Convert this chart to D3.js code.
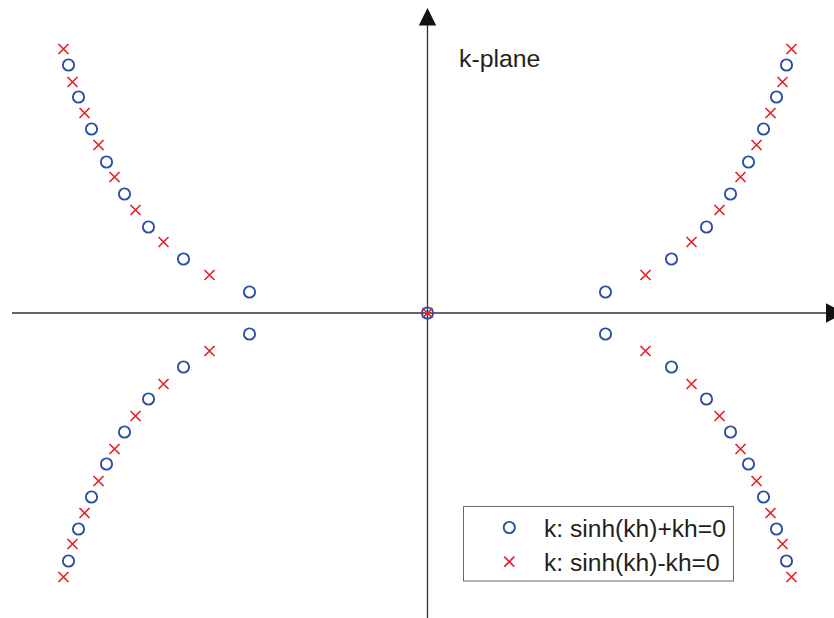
<!DOCTYPE html>
<html>
<head>
<meta charset="utf-8">
<script src="https://cdn.jsdelivr.net/npm/d3@7"></script>
<style>
  html, body { margin: 0; padding: 0; background: #fff; }
  svg { display: block; }
  text { font-family: "Liberation Sans", Arial, Helvetica, sans-serif; fill: #231f20; }
</style>
</head>
<body>
<svg id="chart" width="834" height="618"></svg>
<script>
// Roots in the first quadrant (|Re| along the horizontal, |Im| along the vertical);
// the full set is mirrored into all four quadrants, plus the root at the origin.
const plusRe  = [1.78, 2.44, 2.79, 3.03, 3.21, 3.36, 3.49, 3.59];   // sinh(kh)+kh=0
const plusIm  = [0.21, 0.54, 0.86, 1.19, 1.51, 1.84, 2.16, 2.48];
const minusRe = [2.18, 2.64, 2.92, 3.13, 3.29, 3.43, 3.55, 3.64];   // sinh(kh)-kh=0
const minusIm = [0.38, 0.71, 1.03, 1.36, 1.68, 2.00, 2.31, 2.64];

const legendLabels = ["k: sinh(kh)+kh=0", "k: sinh(kh)-kh=0"];
const planeLabel = "k-plane";

const BLUE = "#2c4ea3";
const RED = "#e4232b";
const AXIS = "#333333";

const svg = d3.select("#chart");

const x = d3.scaleLinear().domain([-4.155, 4.065]).range([12, 834]);
const y = d3.scaleLinear().domain([-3.05, 3.13]).range([618, 0]);

function mirror(re, im) {
  const pts = [[0, 0]];
  re.forEach((r, i) => {
    const m = im[i];
    pts.push([r, m], [-r, m], [r, -m], [-r, -m]);
  });
  return pts;
}
const plusPts = mirror(plusRe, plusIm);
const minusPts = mirror(minusRe, minusIm);

// axes
const x0 = x(0), y0 = y(0);
const axes = svg.append("g");
axes.append("line")
  .attr("x1", x.range()[0]).attr("x2", 828)
  .attr("y1", y0).attr("y2", y0)
  .attr("stroke", AXIS).attr("stroke-width", 1.3);
axes.append("line")
  .attr("x1", x0).attr("x2", x0)
  .attr("y1", 618).attr("y2", 20)
  .attr("stroke", AXIS).attr("stroke-width", 1.3);
// arrow heads
axes.append("path")
  .attr("d", `M${x0},8 L${x0 + 8.7},25.5 L${x0 - 8.7},25.5 Z`)
  .attr("fill", "#111");
axes.append("path")
  .attr("d", `M826,${y0 - 9.8} L844,${y0} L826,${y0 + 9.8} Z`)
  .attr("fill", "#111");

// markers
const crossSize = 5;
function crossPath(cx, cy, s) {
  return `M${cx - s},${cy - s}L${cx + s},${cy + s}M${cx - s},${cy + s}L${cx + s},${cy - s}`;
}

svg.append("g").selectAll("circle")
  .data(plusPts).join("circle")
  .attr("cx", d => x(d[0])).attr("cy", d => y(d[1]))
  .attr("r", 5.6)
  .attr("fill", "none").attr("stroke", BLUE).attr("stroke-width", 1.9);

svg.append("g").selectAll("path")
  .data(minusPts).join("path")
  .attr("d", d => crossPath(x(d[0]), y(d[1]), crossSize))
  .attr("fill", "none").attr("stroke", RED).attr("stroke-width", 1.7);

// plane label
svg.append("text")
  .attr("x", 459).attr("y", 66.5)
  .attr("font-size", 24.8)
  .text(planeLabel);

// legend
const lg = svg.append("g");
lg.append("rect")
  .attr("x", 463.5).attr("y", 506.5)
  .attr("width", 270).attr("height", 74.5)
  .attr("fill", "#fff").attr("stroke", "#666").attr("stroke-width", 1);
lg.append("circle")
  .attr("cx", 509.3).attr("cy", 527.5).attr("r", 5.6)
  .attr("fill", "none").attr("stroke", BLUE).attr("stroke-width", 1.9);
lg.append("path")
  .attr("d", crossPath(509.3, 561.7, crossSize))
  .attr("fill", "none").attr("stroke", RED).attr("stroke-width", 1.7);
lg.selectAll("text.lab")
  .data(legendLabels).join("text")
  .attr("class", "lab")
  .attr("x", 544)
  .attr("y", (d, i) => 536.5 + i * 34.5)
  .attr("font-size", 24.6)
  .text(d => d);
</script>
</body>
</html>
